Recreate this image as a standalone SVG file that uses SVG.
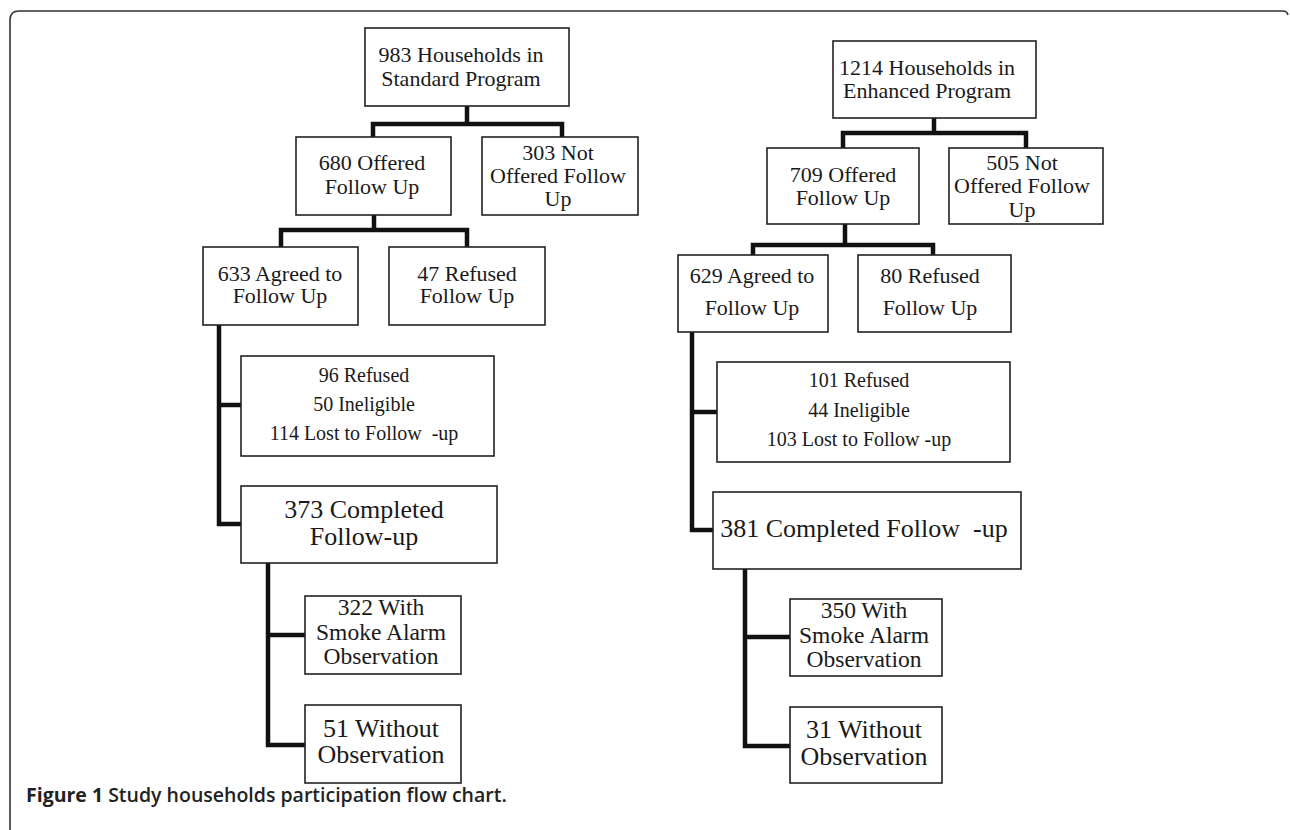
<svg xmlns="http://www.w3.org/2000/svg" width="1290" height="830" viewBox="0 0 1290 830">
<style>
.box{fill:#fff;stroke:#222;stroke-width:1.6}
.t{font-family:"Liberation Serif","Times New Roman",serif;fill:#1a1a1a;text-anchor:middle}
.s22{font-size:22px}.s23{font-size:22px}.s20{font-size:20px}.s26{font-size:26px}.s235{font-size:23.5px}
.con{fill:none;stroke:#111;stroke-width:4.5;stroke-linejoin:miter}
.frame{fill:none;stroke:#333;stroke-width:1.6}
.cap{font-family:"Open Sans","Liberation Sans",sans-serif;font-size:19.5px;fill:#222}
</style>
<rect width="1290" height="830" fill="#fff"/>
<path class="frame" d="M10,830 V20 Q10,11 19,11 H1283 Q1287,11 1288,15"/>
<g id="connectors">
<path class="con" d="M467,106 V124 M373,139 V124 H562 V139"/>
<path class="con" d="M374,215 V230 M281,249 V230 H467 V249"/>
<path class="con" d="M219,325 V524 H243 M219,405 H243"/>
<path class="con" d="M268,563 V745 H307 M268,635 H307"/>
<path class="con" d="M934,118 V133 M843,150 V133 H1026 V150"/>
<path class="con" d="M845,224 V245 M753,257 V245 H933 V257"/>
<path class="con" d="M692,332 V530 H715 M692,412 H719"/>
<path class="con" d="M745,569 V746 H792 M745,637 H792"/>
</g>
<g id="n983"><rect class="box" x="365" y="28" width="204" height="78"/><text class="t s23" x="461" y="62">983 Households in</text><text class="t s23" x="461" y="86">Standard Program</text></g>
<g id="n680"><rect class="box" x="296" y="137" width="155" height="78"/><text class="t s22" x="372" y="170">680 Offered</text><text class="t s22" x="372" y="194">Follow Up</text></g>
<g id="n303"><rect class="box" x="482" y="137" width="156" height="78"/><text class="t s22" x="558" y="160">303 Not</text><text class="t s22" x="558" y="183">Offered Follow</text><text class="t s22" x="558" y="206">Up</text></g>
<g id="n633"><rect class="box" x="203" y="247" width="155" height="78"/><text class="t s22" x="280" y="281">633 Agreed to</text><text class="t s22" x="280" y="303">Follow Up</text></g>
<g id="n47"><rect class="box" x="389" y="247" width="156" height="78"/><text class="t s22" x="467" y="281">47 Refused</text><text class="t s22" x="467" y="303">Follow Up</text></g>
<g id="n96"><rect class="box" x="241" y="356" width="253" height="100"/><text class="t s20" x="364" y="382">96 Refused</text><text class="t s20" x="364" y="411">50 Ineligible</text><text class="t s20" x="364" y="440" xml:space="preserve">114 Lost to Follow  -up</text></g>
<g id="n373"><rect class="box" x="241" y="486" width="256" height="77"/><text class="t s26" x="364" y="518">373 Completed</text><text class="t s26" x="364" y="545">Follow-up</text></g>
<g id="n322"><rect class="box" x="305" y="596" width="156" height="78"/><text class="t s235" x="381" y="615">322 With</text><text class="t s235" x="381" y="640">Smoke Alarm</text><text class="t s235" x="381" y="664">Observation</text></g>
<g id="n51"><rect class="box" x="305" y="705" width="156" height="78"/><text class="t s26" x="381" y="737">51 Without</text><text class="t s26" x="381" y="763">Observation</text></g>
<g id="n1214"><rect class="box" x="833" y="41" width="203" height="77"/><text class="t s23" x="927" y="75">1214 Households in</text><text class="t s23" x="927" y="98">Enhanced Program</text></g>
<g id="n709"><rect class="box" x="767" y="148" width="152" height="76"/><text class="t s22" x="843" y="182">709 Offered</text><text class="t s22" x="843" y="205">Follow Up</text></g>
<g id="n505"><rect class="box" x="949" y="148" width="154" height="76"/><text class="t s22" x="1022" y="170">505 Not</text><text class="t s22" x="1022" y="193">Offered Follow</text><text class="t s22" x="1022" y="217">Up</text></g>
<g id="n629"><rect class="box" x="678" y="255" width="150" height="77"/><text class="t s22" x="752" y="283">629 Agreed to</text><text class="t s22" x="752" y="315">Follow Up</text></g>
<g id="n80"><rect class="box" x="858" y="255" width="153" height="77"/><text class="t s22" x="930" y="283">80 Refused</text><text class="t s22" x="930" y="315">Follow Up</text></g>
<g id="n101"><rect class="box" x="717" y="362" width="293" height="100"/><text class="t s20" x="859" y="387">101 Refused</text><text class="t s20" x="859" y="417">44 Ineligible</text><text class="t s20" x="859" y="446">103 Lost to Follow -up</text></g>
<g id="n381"><rect class="box" x="713" y="492" width="308" height="77"/><text class="t s26" x="864" y="537" xml:space="preserve">381 Completed Follow  -up</text></g>
<g id="n350"><rect class="box" x="790" y="599" width="152" height="77"/><text class="t s235" x="864" y="618">350 With</text><text class="t s235" x="864" y="643">Smoke Alarm</text><text class="t s235" x="864" y="667">Observation</text></g>
<g id="n31"><rect class="box" x="790" y="707" width="152" height="76"/><text class="t s26" x="864" y="738">31 Without</text><text class="t s26" x="864" y="765">Observation</text></g>
<text class="cap" x="26" y="802"><tspan font-weight="700">Figure 1</tspan><tspan font-weight="600"> Study households participation flow chart.</tspan></text>
</svg>
